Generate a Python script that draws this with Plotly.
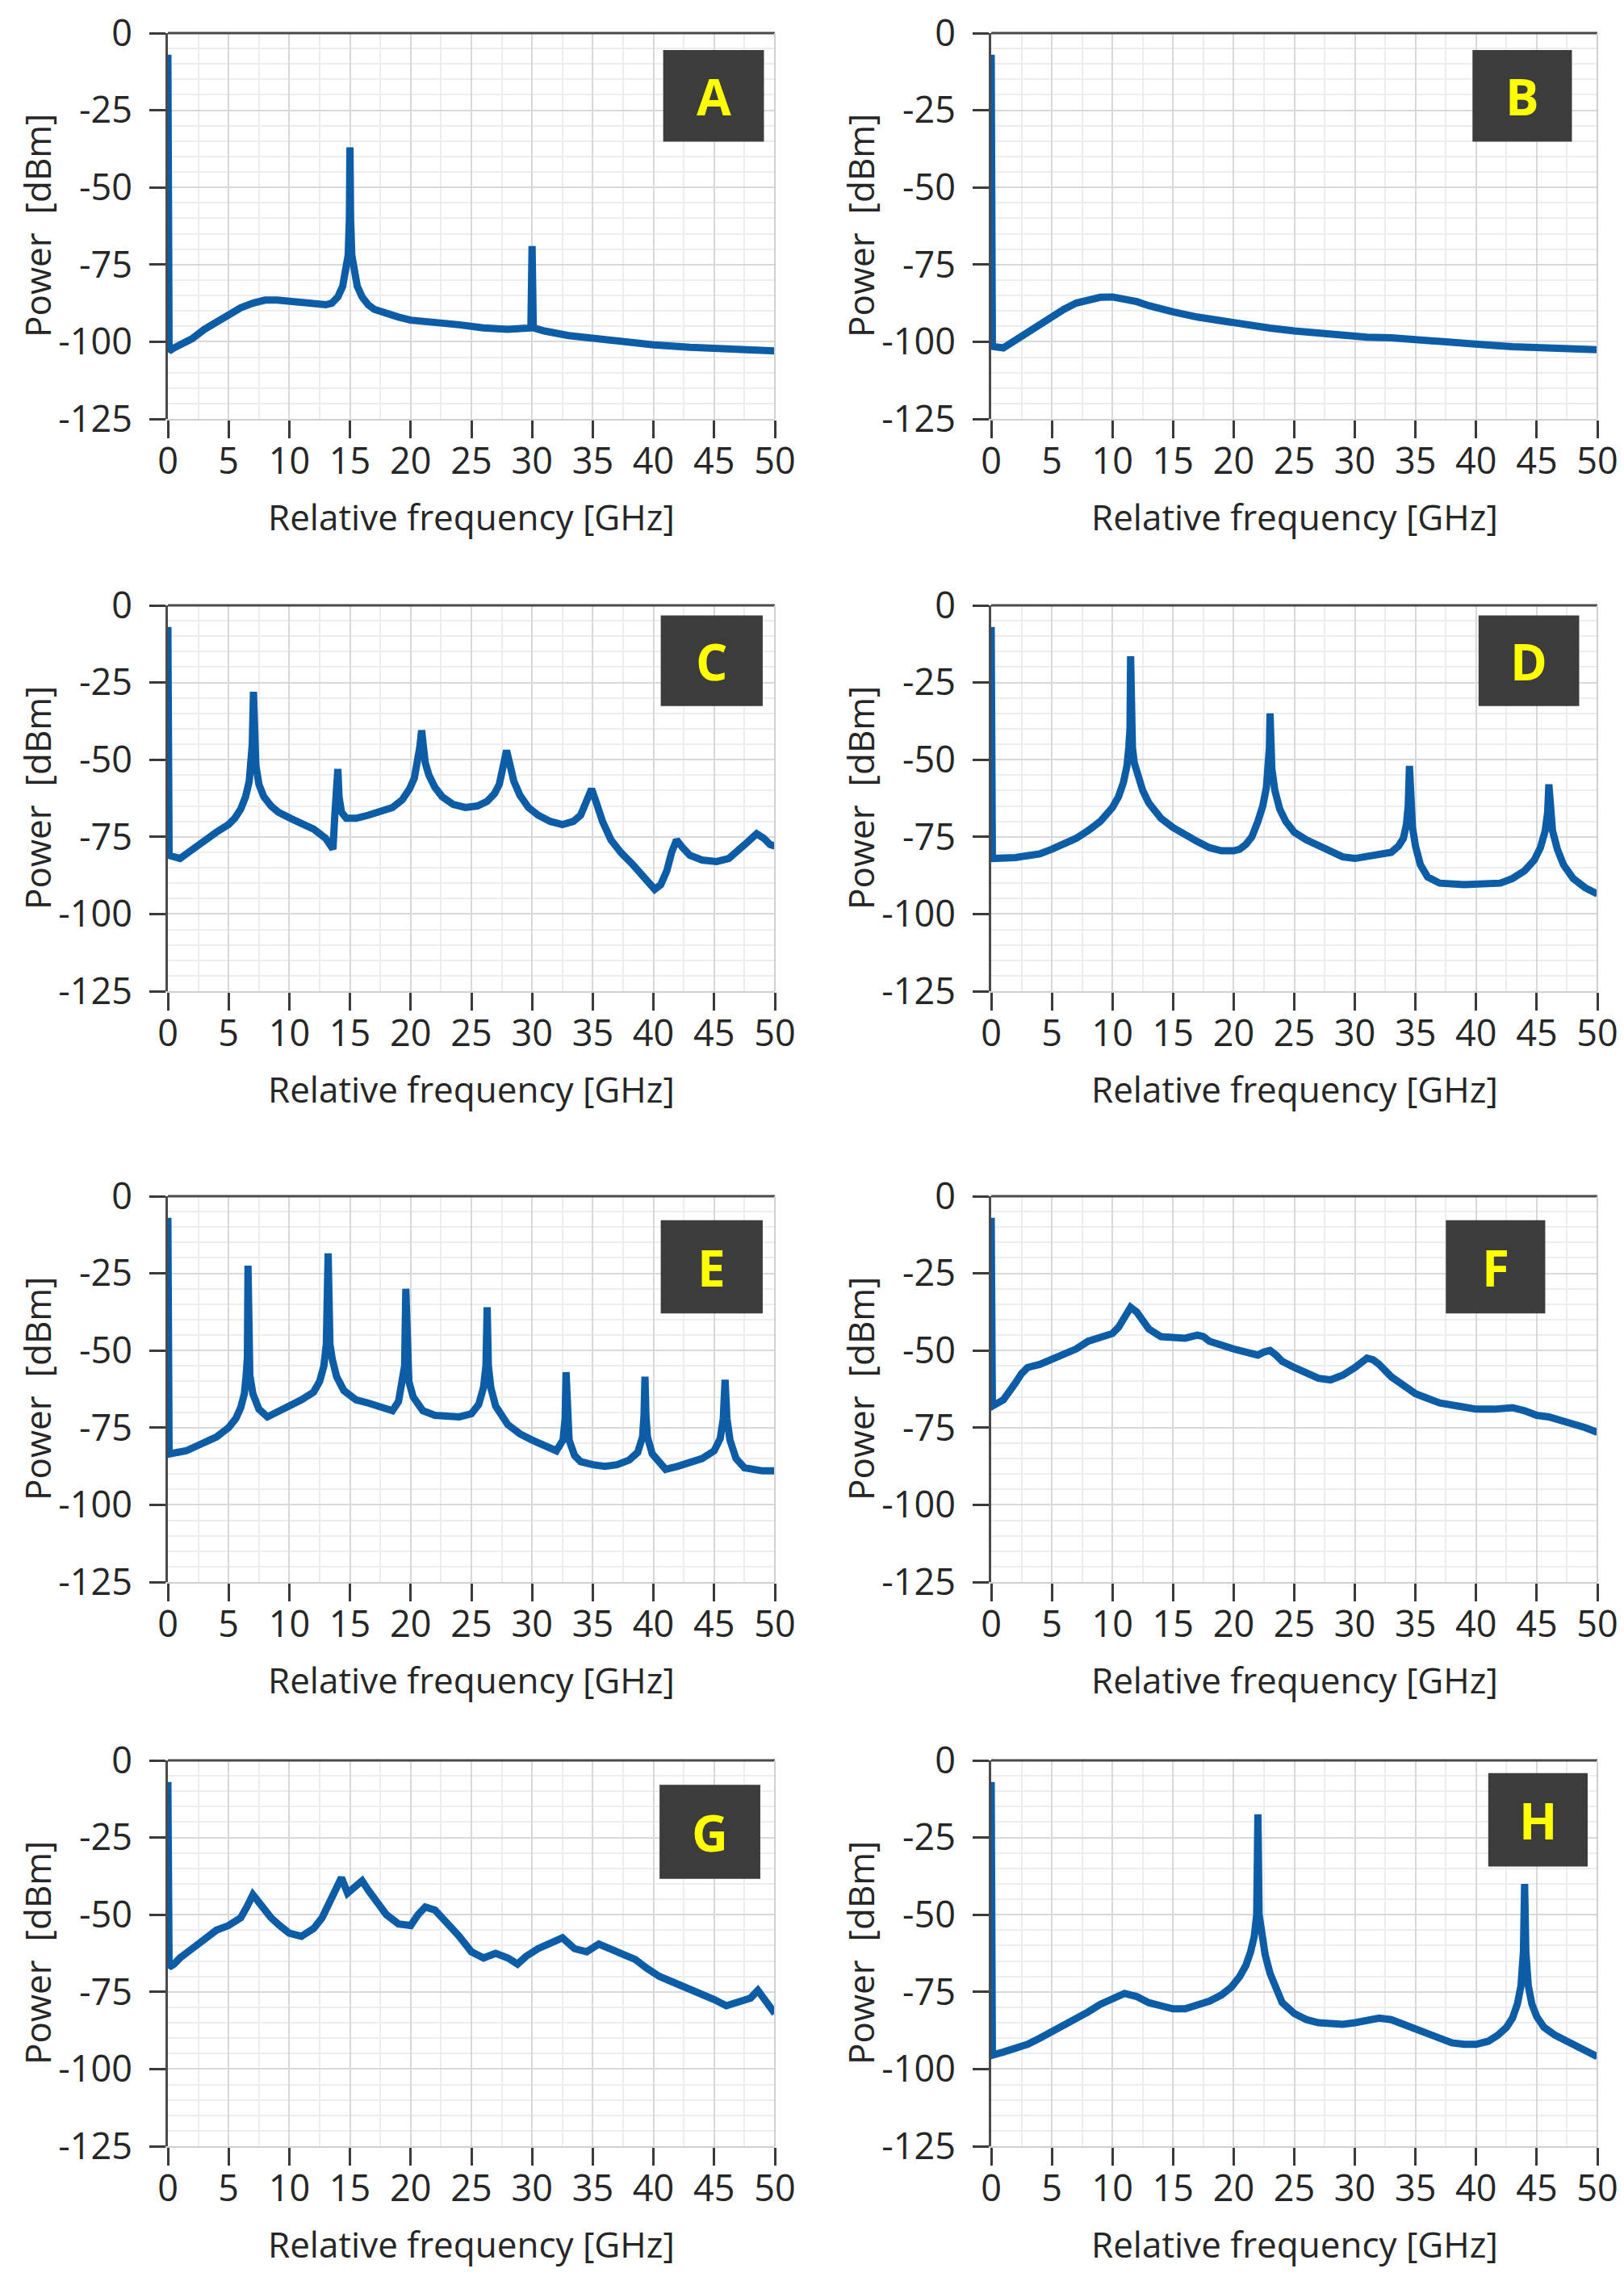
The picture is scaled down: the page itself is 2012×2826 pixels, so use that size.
import plotly.graph_objects as go

# ---------------- data ----------------
A_f = [0, 0.1, 0.5, 1, 2, 3, 4, 5, 6, 7, 8, 9, 10, 11, 12, 13, 13.5, 14, 14.4, 14.7, 14.85, 14.95, 15.0, 15.05, 15.15, 15.3, 15.6, 16, 16.5, 17, 18, 19, 20, 22, 24, 26, 28, 29.9, 30.0, 30.1, 31, 33, 35, 37, 40, 43, 46, 50]
A_p = [-7, -103, -102, -101, -99, -96, -93.5, -91.5, -89, -87.5, -86.5, -86.5, -87, -87.5, -88, -88, -87.5, -85.5, -82, -77, -72, -60, -37, -60, -72, -77, -82, -85.5, -88, -89.5, -91, -92, -93, -93.5, -94.5, -95.5, -96, -95.5, -69, -95.5, -96.5, -98, -99, -100, -101, -101.8, -102.3, -103]

B_f = [0, 0.1, 1, 2, 3, 4, 5, 6, 7, 8, 9, 10, 11, 12, 13, 14, 15, 17, 19, 21, 23, 25, 27, 29, 31, 33, 35, 37, 39, 41, 43, 45, 47, 49, 50]
B_p = [-7, -101.5, -102, -99.5, -96.5, -94, -91.5, -89.5, -87.5, -86.3, -85.6, -85.5, -86, -87, -88.3, -89.4, -90.3, -92, -93.3, -94.8, -95.6, -96.5, -97.2, -97.9, -98.5, -98.7, -99.4, -99.7, -100.5, -101.1, -101.6, -102, -102.4, -102.6, -102.6]

C_f = [0, 0.1, 1, 2, 3, 4, 5, 5.5, 6, 6.4, 6.7, 6.85, 6.95, 7.05, 7.15, 7.25, 7.5, 7.9, 8.5, 9.1, 10.1, 11, 12, 13, 13.6, 13.75, 13.9, 14.0, 14.1, 14.3, 14.7, 15.5, 16.5, 17.5, 18.5, 19.3, 19.9, 20.3, 20.6, 20.75, 20.9, 21.05, 21.2, 21.5, 22, 22.6, 23.5, 24.5, 25.5, 26.3, 26.9, 27.3, 27.6, 27.9, 28.2, 28.5, 29, 29.7, 30.5, 31.5, 32.5, 33.4, 34, 34.5, 34.9, 35.3, 35.8, 36.5, 37.3, 38.3, 39.3, 40.1, 40.6, 41.1, 41.5, 41.9, 42.4, 43, 44, 45.2, 46.2, 47, 47.8, 48.5, 49.1, 49.6, 50]
C_p = [-7, -81, -82, -79, -76, -73.5, -71, -69, -66, -62, -57, -51, -45, -28, -45, -52, -58, -62, -65, -67, -69, -70.5, -72.5, -75.5, -79, -68, -62, -53, -62, -67, -69, -69, -68, -67, -65.5, -63, -59.5, -56, -51, -46, -40.5, -46, -51, -55, -59, -62, -64.5, -65.5, -65, -63.5, -61, -58, -53, -47, -52, -57, -61.5, -65.5, -68, -70, -71, -70, -68, -64, -59.5, -64, -70, -76, -80, -84, -88, -92, -90.5, -86, -80, -76, -78.5, -81, -82.5, -83, -82, -79.5, -76.5, -74, -75.5, -77.5, -78]

D_f = [0, 0.1, 2, 4, 5, 6, 7, 8, 9, 10, 10.5, 10.9, 11.2, 11.35, 11.45, 11.5, 11.55, 11.65, 11.8, 12.1, 12.5, 13, 14, 15, 16, 17, 18, 19, 20, 20.5, 21, 21.5, 22, 22.4, 22.7, 22.85, 22.95, 23.0, 23.05, 23.15, 23.4, 23.8, 24.3, 25, 26, 27, 28, 29, 30, 31, 32, 33, 33.6, 34, 34.25, 34.4, 34.5, 34.6, 34.75, 35, 35.4, 36, 37, 39, 41, 42, 43, 44, 44.8, 45.3, 45.7, 45.9, 46.0, 46.1, 46.3, 46.7, 47.2, 48, 49, 50]
D_p = [-7, -82, -81.7, -80.5, -79, -77.5, -75.5, -73, -70, -65.5, -62, -57.5, -52, -46, -40, -16.5, -40, -46, -51, -55.5, -60, -64, -69, -72, -74.5, -76.5, -78.5, -79.5, -79.5, -79, -77.5, -75, -70, -65, -59, -52, -46, -35, -46, -53, -60, -66, -70, -73.5, -76, -78, -80, -81.5, -82, -81.5, -81, -80, -78, -75.5, -71, -65, -52, -65, -72, -78, -84, -88, -90, -90.5, -90.5, -90, -88.5, -86, -82.5, -78.5, -73, -67, -58, -67, -73, -79, -84, -88.5, -91.5, -93.5]

E_f = [0, 0.1, 1.5, 3, 4, 5, 5.6, 6.0, 6.3, 6.45, 6.55, 6.6, 6.65, 6.75, 7.0, 7.5, 8.2, 9, 10, 11, 12, 12.5, 12.85, 13.05, 13.2, 13.35, 13.55, 13.9, 14.5, 15.5, 16.5, 17.5, 18.5, 19.0, 19.35, 19.5, 19.6, 19.7, 19.85, 20.2, 21, 22, 23, 24, 25, 25.6, 26.0, 26.2, 26.3, 26.4, 26.6, 27, 28, 29, 30, 31, 32, 32.55, 32.72, 32.8, 32.88, 33.05, 33.5, 34, 35, 36, 37, 38, 38.7, 39.1, 39.22, 39.3, 39.38, 39.5, 39.9, 41, 42, 43, 44, 45, 45.5, 45.75, 45.9, 46.05, 46.3, 46.8, 47.5, 49, 50]
E_p = [-7, -83.5, -82.5, -80, -78, -75, -72, -68.5, -64, -58, -52, -22.5, -52, -58, -64, -69, -71.5, -70, -68, -66, -63.5, -60, -55, -48, -18.5, -48, -53, -58.5, -63, -66, -67, -68, -69.5, -66.5, -60, -55, -30, -55, -60, -65, -69.5, -71, -71.5, -71.5, -70.5, -67.5, -62, -55, -36, -55, -62, -68, -74, -77, -79, -81, -82.5, -79, -72, -57, -72, -79, -84, -86, -87, -87.5, -87, -85.5, -83, -78, -71, -58.5, -71, -78, -83.5, -88.5, -87.5, -86, -85, -82.5, -78.5, -72, -59.5, -72, -79, -85, -88, -89, -89]

F_f = [0, 0.1, 1, 1.5, 2, 2.5, 3, 4, 5, 6, 7, 8, 9, 10, 10.5, 11, 11.5, 12, 12.5, 13, 14, 15, 16, 17, 17.5, 18, 19, 20, 21, 22, 22.5, 23, 23.5, 24, 25, 26, 27, 28, 29, 30, 31, 31.5, 32, 33, 34, 35, 36, 37, 38.5, 40, 41.5, 43, 44, 45, 46, 47, 48, 49, 50]
F_p = [-7, -68, -66, -63.5, -60.5, -57.5, -55.5, -54.5, -53, -51, -49.5, -47, -45.5, -44.5, -42.5, -39.5, -36, -37.5, -40, -43, -45.5, -46, -46, -45, -45.5, -47, -48.5, -49.5, -50.5, -51.5, -50.5, -50, -51.5, -53.5, -55.5, -57.5, -59, -59.5, -58, -55.5, -52.5, -53, -54.5, -58.5, -61.5, -64, -65.5, -67, -68, -69, -69, -68.5, -69.5, -71, -71.5, -72.5, -74, -75, -76.5]

G_f = [0, 0.1, 0.5, 1, 2, 3, 4, 5, 6, 6.5, 7, 7.5, 8, 8.5, 9.2, 10, 11, 12, 12.7, 13.2, 13.7, 14.3, 14.8, 15.3, 16, 16.5, 17.2, 18, 19, 20, 20.6, 21.2, 22, 23, 24, 25, 26, 27, 28, 28.8, 29.5, 30.5, 31.5, 32.5, 33.5, 34.5, 35.5, 36.5, 37.5, 38.5, 39.5, 40.5, 42, 43, 44, 45, 46, 47, 48, 48.6, 49.2, 50]
G_p = [-7, -67, -66, -64, -61, -58, -55, -53.5, -51, -47.5, -43.5, -46, -49, -51, -53.5, -56, -57, -54.5, -51, -47, -42, -38, -43, -41, -39, -42, -46, -50, -53, -53.5, -50, -47.5, -48.5, -52.5, -57, -62, -64, -62.5, -64, -66, -63.5, -61, -59.5, -57.5, -61, -62, -59.5, -61, -62.5, -64.5, -67.5, -70, -72.5, -74, -76, -77.5, -79.5, -78.5, -77, -74.5, -77.5, -82]

H_f = [0, 0.1, 1, 2, 3, 4, 5, 6, 7, 8, 9, 10, 11, 12, 13, 14, 15, 16, 17, 18, 19, 19.8, 20.5, 21, 21.4, 21.7, 21.9, 22.0, 22.1, 22.3, 22.6, 23, 23.5, 24, 25, 26, 27, 28, 29, 30, 31, 32, 33, 34, 35, 36, 37, 38, 39, 40, 41, 41.8, 42.5, 43, 43.4, 43.7, 43.9, 44.0, 44.1, 44.3, 44.6, 45, 45.6, 46.5, 47.5, 48.5, 50]
H_p = [-7, -95.5, -94.5, -93.5, -92, -90, -88, -85.5, -83.5, -81.5, -79, -77, -75.5, -76.5, -78.5, -79.5, -80.5, -80.5, -79.5, -78, -76, -73.5, -70, -66.5, -62, -57, -50, -17.5, -50, -57, -63, -69, -74.5, -78.5, -82, -84, -85, -85.5, -85.5, -85, -84, -83.5, -84, -85.5, -87.5, -89, -90, -91.5, -92, -92, -91, -89, -86.5, -83.5, -79, -73, -62, -40, -62, -73, -79, -83, -86.5, -89, -91, -93, -96]

panel_letters = ["A", "B", "C", "D", "E", "F", "G", "H"]
panel_freqs = [A_f, B_f, C_f, D_f, E_f, F_f, G_f, H_f]
panel_powers = [A_p, B_p, C_p, D_p, E_p, F_p, G_p, H_p]

y_tick_vals = [0, -25, -50, -75, -100, -125]
y_tick_text = ["0", "-25", "-50", "-75", "-100", "-125"]
x_tick_vals = [0, 5, 10, 15, 20, 25, 30, 35, 40, 45, 50]
x_tick_text = [str(v) for v in x_tick_vals]

x_title = "Relative frequency [GHz]"
y_title = "Power  [dBm]"

# ---------------- layout geometry / styles ----------------
W, H = 2012, 2826
col_px = [(200, 952), (1220, 1971)]
row_top_px = [33, 742, 1474, 2173]
panel_h = 478

# label boxes (data coords): x0, x1, y_top, y_bottom
label_boxes = {
    "A": (40.8, 49.1, -5.5, -35.2),
    "B": (39.7, 47.9, -5.5, -35.2),
    "C": (40.6, 49.0, -3.3, -32.6),
    "D": (40.2, 48.5, -3.3, -32.6),
    "E": (40.6, 49.0, -7.8, -38),
    "F": (37.5, 45.7, -7.8, -38),
    "G": (40.5, 48.8, -7.9, -38.4),
    "H": (41.0, 49.2, -4.1, -34.4),
}

FONT = "Open Sans"
TXT = "#262626"
LINE_BLUE = "#0d5da6"
MAJOR_GRID = "#d9d9d9"
MINOR_GRID = "#ededed"

fig = go.Figure()
layout = dict(
    width=W, height=H,
    margin=dict(l=0, r=0, t=0, b=0, pad=0, autoexpand=False),
    paper_bgcolor="white", plot_bgcolor="white",
    showlegend=False,
    font=dict(family=FONT, size=44, color=TXT),
)
shapes = []
annotations = []

for i, letter in enumerate(panel_letters):
    r, c = divmod(i, 2)
    n = i + 1
    xa = "xaxis" if n == 1 else f"xaxis{n}"
    ya = "yaxis" if n == 1 else f"yaxis{n}"
    xr = "x" if n == 1 else f"x{n}"
    yr = "y" if n == 1 else f"y{n}"
    x0p, x1p = col_px[c]
    top = row_top_px[r]
    bot = top + panel_h
    layout[xa] = dict(
        domain=[x0p / W, x1p / W], anchor=yr, range=[0, 50],
        tickmode="array", tickvals=x_tick_vals, ticktext=x_tick_text,
        ticks="outside", ticklen=22, tickwidth=3, tickcolor="#3a3a3a",
        ticklabelstandoff=-10, ticklabeloverflow="allow",
        tickfont=dict(family=FONT, size=45, color=TXT),
        showgrid=True, gridcolor=MAJOR_GRID, gridwidth=2,
        minor=dict(tickmode="linear", tick0=0, dtick=2.5, showgrid=True,
                   gridcolor=MINOR_GRID, gridwidth=2),
        zeroline=False, showline=True, linecolor="#d0d0d0", linewidth=2,
        automargin=False, fixedrange=True,
    )
    layout[ya] = dict(
        domain=[1 - bot / H, 1 - top / H], anchor=xr, range=[-125, 0],
        tickmode="array", tickvals=y_tick_vals, ticktext=y_tick_text,
        ticks="outside", ticklen=20, tickwidth=3, tickcolor="#3a3a3a",
        ticklabelstandoff=12, ticklabeloverflow="allow",
        tickfont=dict(family=FONT, size=45, color=TXT),
        showgrid=True, gridcolor=MAJOR_GRID, gridwidth=2,
        minor=dict(tickmode="linear", tick0=0, dtick=5, showgrid=True,
                   gridcolor=MINOR_GRID, gridwidth=2),
        zeroline=False, showline=True, linecolor="#4a4a4a", linewidth=3,
        automargin=False, fixedrange=True,
    )
    fig.add_trace(go.Scatter(
        x=panel_freqs[i], y=panel_powers[i], mode="lines",
        line=dict(color=LINE_BLUE, width=9),
        xaxis=xr, yaxis=yr, hoverinfo="skip",
    ))
    # top frame (dark) and right frame (light)
    shapes.append(dict(type="line", xref=f"{xr} domain", yref=f"{yr} domain",
                       x0=0, x1=1, y0=1, y1=1, line=dict(color="#4a4a4a", width=3)))
    shapes.append(dict(type="line", xref=f"{xr} domain", yref=f"{yr} domain",
                       x0=1, x1=1, y0=0, y1=1, line=dict(color="#d0d0d0", width=2)))
    # label box
    bx0, bx1, by0, by1 = label_boxes[letter]
    shapes.append(dict(type="rect", xref=xr, yref=yr, x0=bx0, x1=bx1, y0=by1, y1=by0,
                       fillcolor="#3c3c3c", line=dict(width=0), layer="above"))
    annotations.append(dict(text=f"<b>{letter}</b>", xref=xr, yref=yr,
                            x=(bx0 + bx1) / 2, y=(by0 + by1) / 2,
                            showarrow=False, xanchor="center", yanchor="middle",
                            font=dict(family=FONT, size=62, color="#ffff00")))
    # axis titles
    annotations.append(dict(text=x_title, xref=f"{xr} domain", yref=f"{yr} domain",
                            x=0.5, y=-121 / panel_h, showarrow=False,
                            xanchor="center", yanchor="middle",
                            font=dict(family=FONT, size=44, color=TXT)))
    annotations.append(dict(text=y_title, xref=f"{xr} domain", yref=f"{yr} domain",
                            x=-162 / (x1p - x0p), y=0.5, showarrow=False, textangle=-90,
                            xanchor="center", yanchor="middle",
                            font=dict(family=FONT, size=44, color=TXT)))

layout["shapes"] = shapes
layout["annotations"] = annotations
fig.update_layout(**layout)
fig.write_html("out.html")
